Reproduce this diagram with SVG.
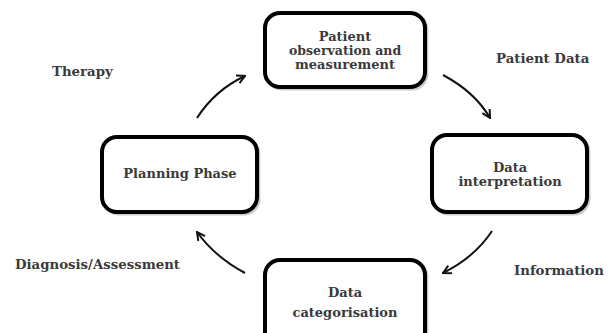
<svg xmlns="http://www.w3.org/2000/svg" width="614" height="333" viewBox="0 0 614 333">
<style>
.box{fill:#fff;stroke:#000;stroke-width:4}
.sh{fill:none;stroke:#999;stroke-width:3;opacity:0.5}
.t{font-family:"DejaVu Serif","Liberation Serif",serif;font-weight:bold;font-size:13px;fill:#3a3a3a;text-anchor:middle}
.lbl{font-family:"DejaVu Serif","Liberation Serif",serif;font-weight:bold;font-size:13.3px;fill:#3a3a3a}
.arr{fill:none;stroke:#111;stroke-width:2;marker-end:url(#ah)}
</style>
<defs>
<marker id="ah" viewBox="0 0 10 10" refX="9" refY="5" markerWidth="10" markerHeight="10" markerUnits="userSpaceOnUse" orient="auto">
<path d="M1,0.8 L9,5 L1,9.2" fill="none" stroke="#111" stroke-width="2"/>
</marker>
</defs>
<rect width="614" height="333" fill="#fff"/>
<g id="node-observation">
<rect class="sh" x="267" y="15" width="160" height="74" rx="15"/>
<rect class="box" x="265" y="13" width="160" height="74" rx="15"/>
<text class="t" x="345" y="41">Patient</text>
<text class="t" x="345" y="55" style="font-size:12.5px">observation and</text>
<text class="t" x="345" y="69">measurement</text>
</g>
<g id="node-interpretation">
<rect class="sh" x="434" y="137" width="155" height="77" rx="15"/>
<rect class="box" x="432" y="135" width="155" height="77" rx="15"/>
<text class="t" x="510" y="172">Data</text>
<text class="t" x="510" y="186">interpretation</text>
</g>
<g id="node-planning">
<rect class="sh" x="104" y="139" width="155" height="75" rx="15"/>
<rect class="box" x="102" y="137" width="155" height="75" rx="15"/>
<text class="t" x="180" y="178">Planning Phase</text>
</g>
<g id="node-categorisation">
<rect class="sh" x="267" y="262" width="160" height="90" rx="15"/>
<rect class="box" x="265" y="260" width="160" height="90" rx="15"/>
<text class="t" x="345" y="297">Data</text>
<text class="t" x="345" y="317">categorisation</text>
</g>
<g id="connectors">
<path class="arr" d="M197,118 Q215,90 245,76"/>
<path class="arr" d="M443,75 Q475,92 490,118"/>
<path class="arr" d="M492,231 Q475,257 443,273"/>
<path class="arr" d="M245,273 Q215,257 197,232"/>
</g>
<g id="labels">
<text class="lbl" x="52" y="76">Therapy</text>
<text class="lbl" x="496" y="63">Patient Data</text>
<text class="lbl" x="15" y="269">Diagnosis/Assessment</text>
<text class="lbl" x="514" y="275">Information</text>
</g>
</svg>
